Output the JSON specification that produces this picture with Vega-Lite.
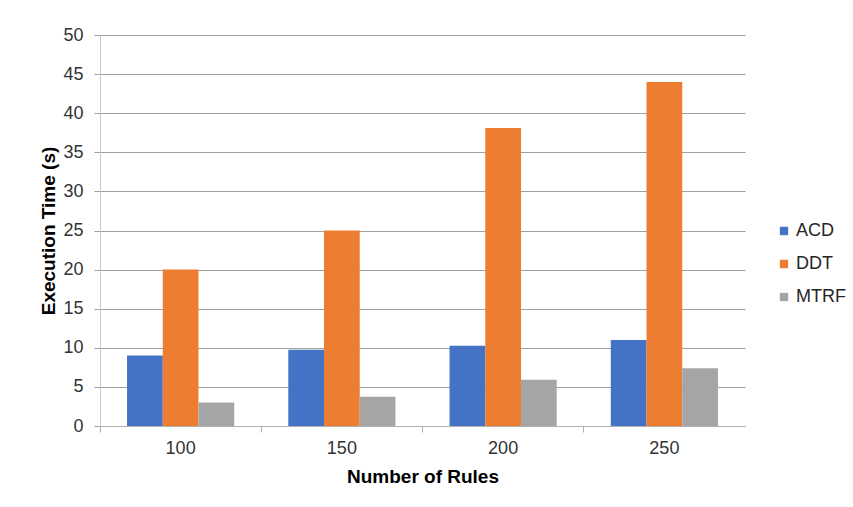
{
  "$schema": "https://vega.github.io/schema/vega-lite/v6.json",
  "autosize": "none",
  "width": 645,
  "height": 391,
  "padding": {"left": 100, "top": 35, "right": 108, "bottom": 81},
  "background": "white",
  "data": {
    "values": [
      {"rules": "100", "method": "ACD", "time": 9.0},
      {"rules": "100", "method": "DDT", "time": 20.0},
      {"rules": "100", "method": "MTRF", "time": 3.0},
      {"rules": "150", "method": "ACD", "time": 9.75},
      {"rules": "150", "method": "DDT", "time": 25.0},
      {"rules": "150", "method": "MTRF", "time": 3.75},
      {"rules": "200", "method": "ACD", "time": 10.25},
      {"rules": "200", "method": "DDT", "time": 38.1},
      {"rules": "200", "method": "MTRF", "time": 5.9},
      {"rules": "250", "method": "ACD", "time": 11.0},
      {"rules": "250", "method": "DDT", "time": 44.0},
      {"rules": "250", "method": "MTRF", "time": 7.4}
    ]
  },
  "mark": {"type": "bar"},
  "encoding": {
    "x": {
      "field": "rules",
      "type": "nominal",
      "sort": ["100", "150", "200", "250"],
      "scale": {"paddingInner": 0, "paddingOuter": 0},
      "axis": {
        "title": "Number of Rules",
        "labelAngle": 0,
        "bandPosition": 0,
        "labelOffset": 0,
        "labelFontSize": 18,
        "labelFont": "Liberation Sans",
        "labelColor": "#333333",
        "labelPadding": 7,
        "titleFont": "Liberation Sans",
        "titleFontSize": 19,
        "titleFontWeight": "bold",
        "titleColor": "#000000",
        "titlePadding": 10,
        "domainColor": "#b0b0b0",
        "tickColor": "#b0b0b0",
        "tickSize": 6,
        "grid": false
      }
    },
    "xOffset": {
      "field": "method",
      "type": "nominal",
      "scale": {"paddingInner": 0, "paddingOuter": 0.757}
    },
    "y": {
      "field": "time",
      "type": "quantitative",
      "scale": {"domain": [0, 50]},
      "axis": {
        "title": "Execution Time (s)",
        "values": [0, 5, 10, 15, 20, 25, 30, 35, 40, 45, 50],
        "labelFontSize": 18,
        "labelFont": "Liberation Sans",
        "labelColor": "#333333",
        "labelPadding": 11,
        "titleFont": "Liberation Sans",
        "titleFontSize": 19,
        "titleFontWeight": "bold",
        "titleColor": "#000000",
        "titlePadding": 4,
        "domainColor": "#c8c8c8",
        "tickColor": "#a0a0a0",
        "tickSize": 6,
        "grid": true,
        "gridColor": "#a0a0a0",
        "gridWidth": 1
      }
    },
    "color": {
      "field": "method",
      "type": "nominal",
      "scale": {"domain": ["ACD", "DDT", "MTRF"], "range": ["#4472C4", "#ED7D31", "#A5A5A5"]},
      "legend": {
        "title": null,
        "orient": "none",
        "legendX": 675,
        "legendY": 187,
        "symbolType": "square",
        "symbolSize": 70,
        "symbolStrokeWidth": 0,
        "labelFont": "Liberation Sans",
        "labelFontSize": 18,
        "labelColor": "#262626",
        "rowPadding": 15,
        "labelOffset": 3
      }
    }
  },
  "config": {
    "view": {"stroke": null},
    "axis": {"gridOpacity": 1}
  }
}
